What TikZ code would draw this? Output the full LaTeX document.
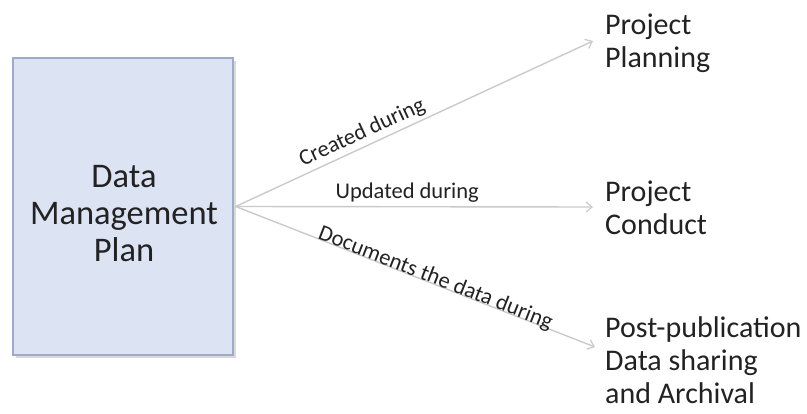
\documentclass[tikz,border=0pt]{standalone}
\usepackage{fontspec}
\setmainfont{Carlito}
\usetikzlibrary{arrows.meta}
\definecolor{boxfill}{HTML}{DCE3F3}
\definecolor{boxline}{HTML}{9FAACB}
\definecolor{arr}{HTML}{CACACA}
\definecolor{txt}{HTML}{222222}
\begin{document}
\begin{tikzpicture}[x=1pt,y=-1pt,
  conn/.style={draw=arr, line width=1.4pt, -{Straight Barb[length=6pt,width=10pt,line width=1.2pt]}},
  lbl/.style={font=\fontsize{22.5}{26}\selectfont, text=txt, sloped, inner sep=3pt},
  target/.style={font=\fontsize{30}{33}\selectfont, text=txt, align=left, anchor=base west, inner sep=0pt},
]
\useasboundingbox (0,0) rectangle (807,414);
\fill[black!15] (16,61) rectangle (236,358);
\node[draw=boxline, fill=boxfill, line width=1.3pt, minimum width=220pt, minimum height=297pt,
      inner sep=0pt] (dmp) at (123,206.5) {};
\node[align=center, font=\fontsize{34.5}{37}\selectfont, text=txt, anchor=base, inner sep=0pt]
      (dmptxt) at (124,262) {Data\\Management\\Plan};
\coordinate (e1) at (593,41);
\coordinate (e2) at (593,207);
\coordinate (e3) at (595,347);
\draw[conn] ([xshift=2pt]dmp.east) -- node[lbl, above, pos=0.37] (l1) {Created during} (e1);
\draw[conn] ([xshift=2pt]dmp.east) -- node[lbl, above, pos=0.48, inner sep=4pt] (l2) {Updated during} (e2);
\draw[conn] ([xshift=2pt]dmp.east) -- node[lbl, anchor=base, pos=0.55, inner sep=1pt] (l3) {Documents the data during} (e3);
\node[target] (pp) at (605,68) {Project\\Planning};
\node[target] (pc) at (605,235) {Project\\Conduct};
\node[target] (pd) at (605,403) {Post-publication\\Data sharing\\and Archival};
\end{tikzpicture}
\end{document}
